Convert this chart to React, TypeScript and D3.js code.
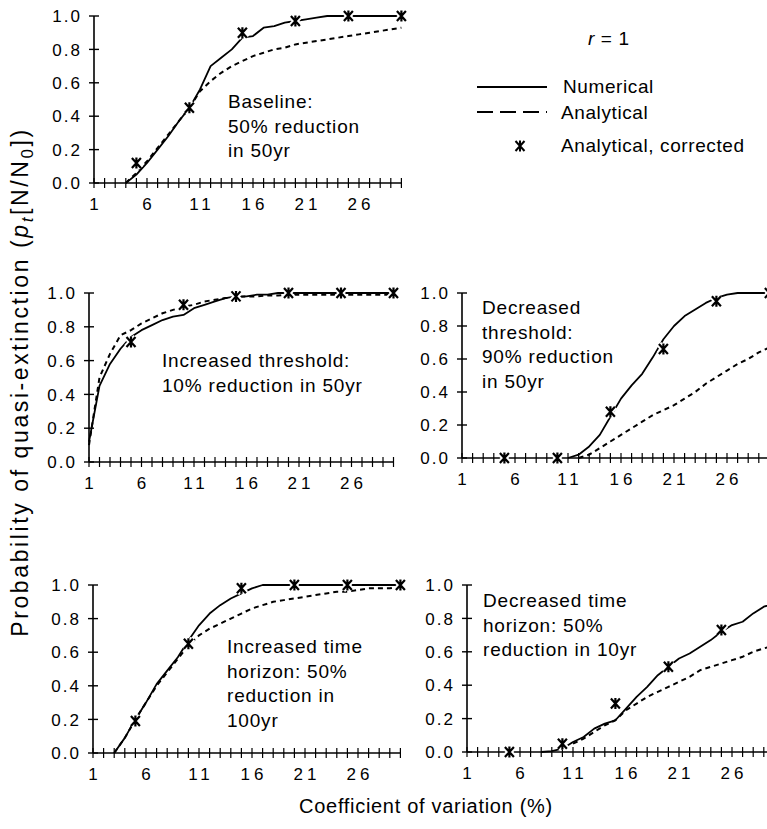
import React, { useEffect, useRef } from 'react';
import * as d3 from 'd3';

// coefficient of variation (%) on the x axis
const cv = [1, 2, 3, 4, 5, 6, 7, 8, 9, 10, 11, 12, 13, 14, 15, 16, 17, 18, 19, 20, 21, 22, 23, 24, 25, 26, 27, 28, 29, 30];
const markerCv = [5, 10, 15, 20, 25, 30];
const yTicks = [0, 0.2, 0.4, 0.6, 0.8, 1.0];
const xTickLabels = [1, 6, 11, 16, 21, 26];

// Baseline: 50% reduction in 50yr
const baseNum = [null, null, null, 0, 0.05, 0.12, 0.2, 0.28, 0.37, 0.45, 0.56, 0.7, 0.75, 0.8, 0.87, 0.88, 0.93, 0.94, 0.96, 0.97, 0.98, 0.99, 1, 1, 1, 1, 1, 1, 1, 1];
const baseAna = [null, null, null, 0, 0.06, 0.13, 0.21, 0.29, 0.37, 0.45, 0.55, 0.61, 0.66, 0.7, 0.73, 0.76, 0.78, 0.8, 0.81, 0.83, 0.84, 0.85, 0.86, 0.87, 0.88, 0.89, 0.9, 0.91, 0.92, 0.93];
const baseCor = [0.12, 0.45, 0.9, 0.97, 1.0, 1.0];

// Increased threshold: 10% reduction in 50yr
const incThrNum = [0.12, 0.45, 0.58, 0.67, 0.74, 0.78, 0.81, 0.84, 0.86, 0.87, 0.91, 0.93, 0.95, 0.97, 0.98, 0.98, 0.99, 0.99, 1, 1, 1, 1, 1, 1, 1, 1, 1, 1, 1, 1];
const incThrAna = [0.1, 0.5, 0.64, 0.75, 0.78, 0.82, 0.85, 0.88, 0.9, 0.92, 0.93, 0.95, 0.96, 0.97, 0.975, 0.98, 0.98, 0.985, 0.985, 0.99, 0.99, 0.99, 0.99, 0.99, 0.99, 0.99, 0.99, 0.99, 0.99, 0.99];
const incThrCor = [0.71, 0.93, 0.98, 1.0, 1.0, 1.0];

// Decreased threshold: 90% reduction in 50yr
const decThrNum = [null, null, null, null, null, null, null, null, null, null, 0, 0.02, 0.07, 0.14, 0.25, 0.36, 0.44, 0.51, 0.61, 0.72, 0.8, 0.86, 0.9, 0.94, 0.97, 0.99, 1, 1, 1, 1];
const decThrAna = [null, null, null, null, null, null, null, null, null, null, null, 0, 0.02, 0.06, 0.1, 0.14, 0.18, 0.22, 0.26, 0.29, 0.32, 0.36, 0.4, 0.45, 0.49, 0.53, 0.57, 0.6, 0.64, 0.67];
const decThrCor = [0, 0, 0.28, 0.66, 0.95, 1.0];

// Increased time horizon: 50% reduction in 100yr
const incHorNum = [null, null, 0, 0.09, 0.2, 0.3, 0.41, 0.49, 0.57, 0.67, 0.76, 0.83, 0.88, 0.92, 0.95, 0.98, 1, 1, 1, 1, 1, 1, 1, 1, 1, 1, 1, 1, 1, 1];
const incHorAna = [null, null, 0, 0.09, 0.2, 0.3, 0.4, 0.48, 0.56, 0.64, 0.7, 0.74, 0.77, 0.8, 0.83, 0.86, 0.88, 0.9, 0.91, 0.92, 0.93, 0.94, 0.95, 0.96, 0.96, 0.97, 0.98, 0.98, 0.98, 0.99];
const incHorCor = [0.19, 0.65, 0.98, 1.0, 1.0, 1.0];

// Decreased time horizon: 50% reduction in 10yr
const decHorNum = [null, null, null, null, null, null, null, 0, 0.005, 0.02, 0.06, 0.09, 0.14, 0.17, 0.19, 0.26, 0.33, 0.39, 0.46, 0.51, 0.56, 0.59, 0.63, 0.67, 0.72, 0.76, 0.78, 0.83, 0.87, 0.89];
const decHorAna = [null, null, null, null, null, null, null, null, null, null, 0.05, 0.08, 0.12, 0.16, 0.19, 0.25, 0.29, 0.33, 0.36, 0.39, 0.42, 0.45, 0.49, 0.51, 0.53, 0.55, 0.57, 0.6, 0.62, 0.64];
const decHorCor = [0, 0.05, 0.29, 0.51, 0.73, 0.89];

const panels = [
  { num: baseNum, ana: baseAna, cor: baseCor, left: 94, top: 16, bottom: 183, unit: 10.6,
    note: ['Baseline:', '50% reduction', 'in 50yr'], noteX: 228, noteY: 108 },
  { num: incThrNum, ana: incThrAna, cor: incThrCor, left: 89, top: 293, bottom: 462, unit: 10.5,
    note: ['Increased threshold:', '10% reduction in 50yr'], noteX: 162, noteY: 367 },
  { num: decThrNum, ana: decThrAna, cor: decThrCor, left: 462, top: 293, bottom: 458, unit: 10.6,
    note: ['Decreased', 'threshold:', '90% reduction', 'in 50yr'], noteX: 482, noteY: 314 },
  { num: incHorNum, ana: incHorAna, cor: incHorCor, left: 93, top: 585, bottom: 753, unit: 10.6,
    note: ['Increased time', 'horizon: 50%', 'reduction in', '100yr'], noteX: 227, noteY: 653 },
  { num: decHorNum, ana: decHorAna, cor: decHorCor, left: 467, top: 585, bottom: 752, unit: 10.6,
    note: ['Decreased time', 'horizon: 50%', 'reduction in 10yr'], noteX: 483, noteY: 607 },
];

const FONT = '"Liberation Sans", Arial, Helvetica, sans-serif';
// star marker: an X with a vertical bar through it
const STAR = 'M-4.5,-5L4.5,5M-4.5,5L4.5,-5M0,-5.5L0,5.5';

const App = () => {
  const svgRef = useRef<SVGSVGElement>(null);

  useEffect(() => {
    const svg = d3.select(svgRef.current);
    svg.selectAll('*').remove();

    panels.forEach((p) => {
      const g = svg.append('g');
      const x = d3.scaleLinear().domain([1, 30]).range([p.left, p.left + 29 * p.unit]);
      const y = d3.scaleLinear().domain([0, 1]).range([p.bottom, p.top]);

      // axes with ticks crossing the line
      g.append('line')
        .attr('x1', x(1)).attr('x2', x(1))
        .attr('y1', y(0)).attr('y2', y(1))
        .attr('stroke', '#000').attr('stroke-width', 1.6);
      g.append('line')
        .attr('x1', x(1)).attr('x2', x(30))
        .attr('y1', y(0)).attr('y2', y(0))
        .attr('stroke', '#000').attr('stroke-width', 1.6);

      g.selectAll('.yt')
        .data(yTicks)
        .enter()
        .append('line')
        .attr('x1', x(1) - 5).attr('x2', x(1) + 5)
        .attr('y1', (d) => y(d)).attr('y2', (d) => y(d))
        .attr('stroke', '#000').attr('stroke-width', 1.4);

      g.selectAll('.xt')
        .data(cv)
        .enter()
        .append('line')
        .attr('x1', (d) => x(d)).attr('x2', (d) => x(d))
        .attr('y1', y(0) - 5).attr('y2', y(0) + 5)
        .attr('stroke', '#000').attr('stroke-width', 1.2);

      g.selectAll('.yl')
        .data(yTicks)
        .enter()
        .append('text')
        .attr('x', x(1) - 12)
        .attr('y', (d) => y(d))
        .attr('dy', '0.36em')
        .attr('text-anchor', 'end')
        .style('font-family', FONT)
        .style('font-size', '17px')
        .style('letter-spacing', '2px')
        .text((d) => d.toFixed(1));

      g.selectAll('.xl')
        .data(xTickLabels)
        .enter()
        .append('text')
        .attr('x', (d) => x(d) + 2)
        .attr('y', y(0) + 27)
        .attr('text-anchor', 'middle')
        .style('font-family', FONT)
        .style('font-size', '17px')
        .style('letter-spacing', '4px')
        .text((d) => d);

      const line = d3
        .line<number | null>()
        .defined((d) => d != null)
        .x((d, i) => x(cv[i]))
        .y((d) => y(d as number));

      g.append('path')
        .attr('d', line(p.ana))
        .attr('fill', 'none')
        .attr('stroke', '#000')
        .attr('stroke-width', 2)
        .attr('stroke-dasharray', '5,4');

      g.append('path')
        .attr('d', line(p.num))
        .attr('fill', 'none')
        .attr('stroke', '#000')
        .attr('stroke-width', 1.8)
        .attr('stroke-linejoin', 'round');

      const marks = g
        .selectAll('.mk')
        .data(p.cor)
        .enter()
        .append('g')
        .attr('transform', (d, i) => `translate(${x(markerCv[i])},${y(d)})`);
      marks.append('path').attr('d', STAR).attr('stroke', '#fff').attr('stroke-width', 6);
      marks.append('path').attr('d', STAR).attr('stroke', '#000').attr('stroke-width', 2.2);

      // panel annotation
      g.append('text')
        .attr('x', p.noteX)
        .attr('y', p.noteY)
        .style('font-family', FONT)
        .style('font-size', '19px')
        .style('letter-spacing', '0.8px')
        .selectAll('tspan')
        .data(p.note)
        .enter()
        .append('tspan')
        .attr('x', p.noteX)
        .attr('dy', (d, i) => (i === 0 ? 0 : 24.7))
        .text((d) => d);
    });

    // legend
    const lg = svg.append('g').style('font-family', FONT).style('font-size', '19px').style('letter-spacing', '0.6px');
    const r = lg.append('text').attr('x', 588).attr('y', 45);
    r.append('tspan').style('font-style', 'italic').text('r');
    r.append('tspan').text(' = 1');
    lg.append('line').attr('x1', 477).attr('x2', 547).attr('y1', 87).attr('y2', 87)
      .attr('stroke', '#000').attr('stroke-width', 1.8);
    lg.append('text').attr('x', 563).attr('y', 93).text('Numerical');
    lg.append('line').attr('x1', 477).attr('x2', 547).attr('y1', 112).attr('y2', 112)
      .attr('stroke', '#000').attr('stroke-width', 1.8).attr('stroke-dasharray', '16,7');
    lg.append('text').attr('x', 561).attr('y', 119).text('Analytical');
    lg.append('path').attr('d', STAR).attr('transform', 'translate(520,146)')
      .attr('stroke', '#000').attr('stroke-width', 2);
    lg.append('text').attr('x', 561).attr('y', 152).text('Analytical, corrected');

    // axis titles
    svg.append('text')
      .attr('x', 426).attr('y', 813)
      .attr('text-anchor', 'middle')
      .style('font-family', FONT).style('font-size', '20px').style('letter-spacing', '0.7px')
      .text('Coefficient of variation (%)');

    const yt = svg.append('text')
      .attr('transform', 'translate(28,382) rotate(-90)')
      .attr('text-anchor', 'middle')
      .style('font-family', FONT).style('font-size', '23px').style('letter-spacing', '2.6px');
    yt.append('tspan').text('Probability of quasi-extinction (');
    yt.append('tspan').style('font-style', 'italic').text('p');
    yt.append('tspan').style('font-style', 'italic').style('font-size', '17px').attr('dy', 5).text('t');
    yt.append('tspan').attr('dy', -5).text('[N/N');
    yt.append('tspan').style('font-size', '17px').attr('dy', 5).text('0');
    yt.append('tspan').attr('dy', -5).text('])');
  }, []);

  return (
    <svg
      ref={svgRef}
      width={767}
      height={829}
      style={{ position: 'absolute', left: 0, top: 0, background: '#fff' }}
    />
  );
};

export default App;
